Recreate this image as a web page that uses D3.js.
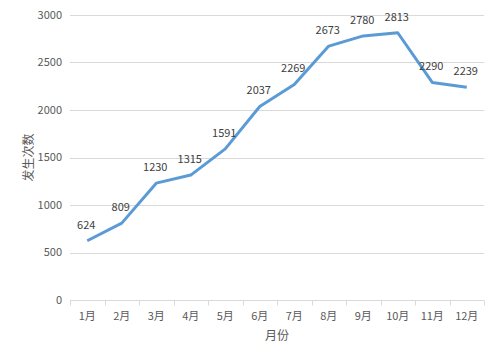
<!DOCTYPE html>
<html>
<head>
<meta charset="utf-8">
<script src="https://cdn.jsdelivr.net/npm/d3@7"></script>
<style>
  body { margin: 0; background: #fff; }
  text { font-family: "Microsoft YaHei", "Noto Sans CJK SC", sans-serif; }
</style>
</head>
<body>
<div id="chart"></div>
<script>
var months = ['1月','2月','3月','4月','5月','6月','7月','8月','9月','10月','11月','12月'];
var counts = [624, 809, 1230, 1315, 1591, 2037, 2269, 2673, 2780, 2813, 2290, 2239];
var yTicks = [0, 500, 1000, 1500, 2000, 2500, 3000];

var margin = {top: 15, right: 15, bottom: 61, left: 70},
    width = 499 - margin.left - margin.right,
    height = 361 - margin.top - margin.bottom;

var svg = d3.select('#chart').append('svg')
    .attr('width', 499)
    .attr('height', 361)
  .append('g')
    .attr('transform', 'translate(' + margin.left + ',' + margin.top + ')');

var x = d3.scaleBand().domain(months).range([0, width]);
var y = d3.scaleLinear().domain([0, 3000]).range([height, 0]);

// gridlines
svg.selectAll('.grid')
    .data(yTicks)
  .enter().append('line')
    .attr('x1', 0).attr('x2', width)
    .attr('y1', function(d) { return Math.round(y(d)) + 0.5; })
    .attr('y2', function(d) { return Math.round(y(d)) + 0.5; })
    .style('stroke', '#d9d9d9');

// y axis labels
svg.selectAll('.ylab')
    .data(yTicks)
  .enter().append('text')
    .attr('x', -8)
    .attr('y', function(d) { return y(d); })
    .attr('dy', '.35em')
    .attr('text-anchor', 'end')
    .style('font-size', '11px')
    .style('fill', '#595959')
    .text(function(d) { return d; });

// x axis with ticks between categories
var xAxis = svg.append('g').attr('transform', 'translate(0,' + (Math.round(height) + 0.5) + ')');
xAxis.append('line').attr('x1', 0).attr('x2', width).style('stroke', '#d9d9d9');
xAxis.selectAll('.tick')
    .data(d3.range(months.length + 1))
  .enter().append('line')
    .attr('x1', function(i) { return Math.round(i * x.step()) + 0.5; })
    .attr('x2', function(i) { return Math.round(i * x.step()) + 0.5; })
    .attr('y1', 0).attr('y2', 5)
    .style('stroke', '#d9d9d9');
xAxis.selectAll('.xlab')
    .data(months)
  .enter().append('text')
    .attr('x', function(d) { return x(d) + x.bandwidth() / 2; })
    .attr('y', 19)
    .attr('text-anchor', 'middle')
    .style('font-size', '11px')
    .style('fill', '#595959')
    .text(function(d) { return d; });

// line
var line = d3.line()
    .x(function(d, i) { return x(months[i]) + x.bandwidth() / 2; })
    .y(function(d) { return y(d); });

svg.append('path')
    .datum(counts)
    .attr('d', line)
    .style('fill', 'none')
    .style('stroke', '#5b9bd5')
    .style('stroke-width', 3)
    .style('stroke-linejoin', 'round');

// data labels
svg.selectAll('.dlab')
    .data(counts)
  .enter().append('text')
    .attr('x', function(d, i) { return x(months[i]) + x.bandwidth() / 2 - 1; })
    .attr('y', function(d) { return y(d) - 12; })
    .attr('text-anchor', 'middle')
    .style('font-size', '11px')
    .style('fill', '#404040')
    .text(function(d) { return d; });

// axis titles
svg.append('text')
    .attr('text-anchor', 'middle')
    .attr('transform', 'translate(-41,' + (height / 2) + ')rotate(-90)')
    .attr('dy', '.35em')
    .style('font-size', '12px')
    .style('fill', '#595959')
    .text('发生次数');

svg.append('text')
    .attr('text-anchor', 'middle')
    .attr('x', width / 2)
    .attr('y', height + 40)
    .style('font-size', '12px')
    .style('fill', '#595959')
    .text('月份');
</script>
</body>
</html>
